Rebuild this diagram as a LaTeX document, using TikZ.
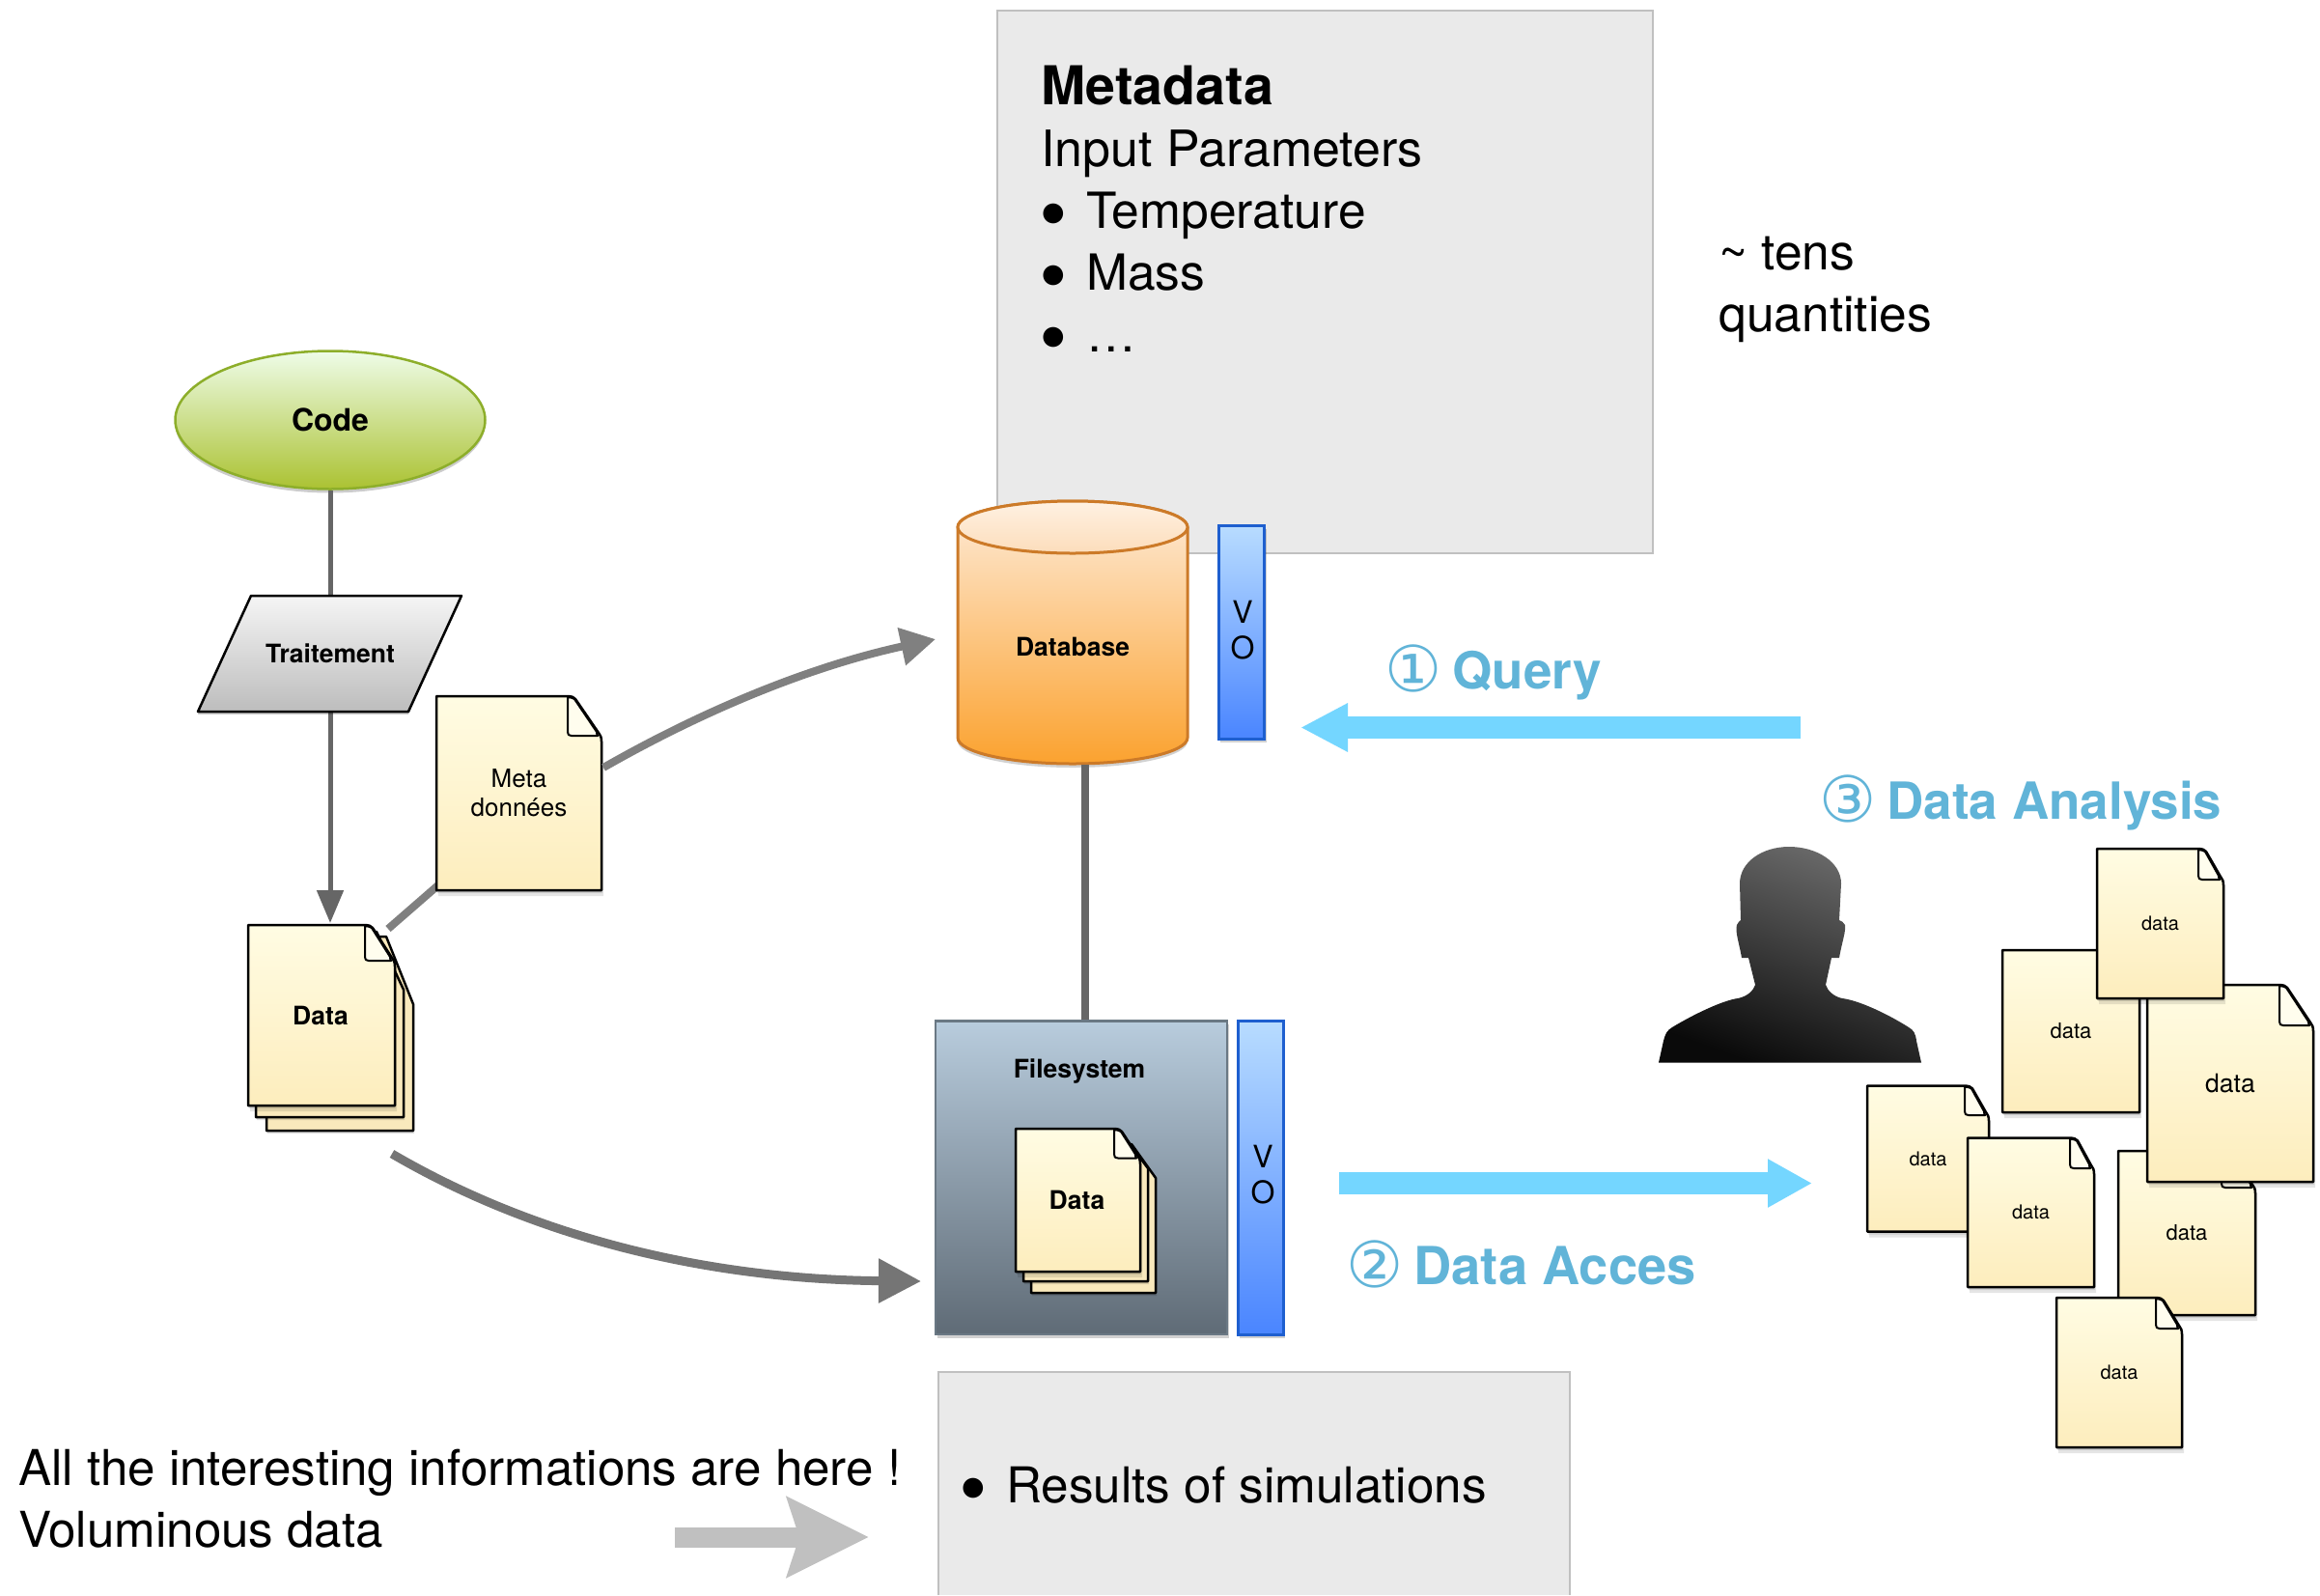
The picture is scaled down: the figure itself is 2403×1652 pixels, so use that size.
\documentclass[tikz,border=0pt]{standalone}
\usepackage{fontspec}
\setmainfont{TeX Gyre Heros}
\newfontfamily\djv{DejaVu Sans}
\usetikzlibrary{shapes.geometric,arrows.meta}
\definecolor{docT}{HTML}{FFFCE3}
\definecolor{docB}{HTML}{FDEDBD}
\definecolor{docBack}{HTML}{F9E9BC}
\definecolor{panel}{HTML}{EAEAEA}
\definecolor{panelB}{HTML}{C0C0C0}
\definecolor{skyA}{HTML}{74D6FF}
\definecolor{headT}{HTML}{61B4D8}
\definecolor{connD}{HTML}{666666}
\definecolor{connM}{HTML}{808080}
\definecolor{voT}{HTML}{B8DCFF}
\definecolor{voB}{HTML}{4A85FF}
\definecolor{voE}{HTML}{1E5FCF}
\definecolor{codeT}{HTML}{EEFCE8}
\definecolor{codeB}{HTML}{ABC232}
\definecolor{codeE}{HTML}{8DAE2A}
\definecolor{dbE}{HTML}{CC7A28}
\definecolor{dbT}{HTML}{FEEBD8}
\definecolor{dbB}{HTML}{FBA22F}
\definecolor{dbLidT}{HTML}{FFF1E2}
\definecolor{dbLidB}{HTML}{FCDDBB}
\definecolor{fsT}{HTML}{B8CCDD}
\definecolor{fsB}{HTML}{5F6B76}
\definecolor{fsE}{HTML}{6A7884}
\newcommand{\fsz}[1]{\fontsize{#1}{#1}\selectfont}
\newcommand{\bigbul}{\makebox[47pt][l]{\hspace{1pt}\raisebox{8pt}{\djv\fontsize{27}{27}\selectfont ●}}}
\newcommand{\circnum}[1]{\raisebox{-3pt}{\djv\fsz{66}\mdseries #1}\hspace{11pt}}
% name, x1,y1,x2,y2, fold x, fold y, text
\newcommand{\docnode}[8]{%
  \path[fill=black,opacity=.10,shift={(1,3)}] (#2,#3) -- (#6,#3) -- (#4,#7) -- (#4,#5) -- (#2,#5) -- cycle;
  \path[fill=black,opacity=.10,shift={(2,6)}] (#2,#3) -- (#6,#3) -- (#4,#7) -- (#4,#5) -- (#2,#5) -- cycle;
  \draw[docline,top color=docT,bottom color=docB] (#2,#3) -- (#6+2,#3) .. controls (#6+5,#3) and (#6+7,#3+1) .. (#6+9,#3+3) -- (#4-3,#7-3) .. controls (#4-1,#7-1) and (#4,#7+2) .. (#4,#7+6) -- (#4,#5) -- (#2,#5) -- cycle;
  \draw[docline,line width=2pt,fill=docT!60!white] (#6+1,#3+1) -- (#6+1,#7-4) .. controls (#6+1,#7-1) and (#6+2,#7) .. (#6+5,#7) -- (#4-4,#7) .. controls (#4-5,#7-2) and (#4-5,#7-3) .. (#4-5,#7-4) -- (#6+8,#3+3) .. controls (#6+6,#3+2) and (#6+4,#3+1) .. (#6+1,#3+1) -- cycle;
  \node[docnode] (#1) at ({(#2+#4)/2},{(#3+#5)/2}) [minimum width={(#4-(#2))*1pt},minimum height={(#5-(#3))*1pt}] {#8};
}
\newcommand{\backdoc}[7]{%
  \path[fill=black,opacity=.12,shift={(1,3)}] (#2,#3) -- (#6,#3) -- (#4,#7) -- (#4,#5) -- (#2,#5) -- cycle;
  \draw[docline,fill=docBack] (#2,#3) -- (#6,#3) -- (#4,#7) -- (#4,#5) -- (#2,#5) -- cycle;
  \coordinate (#1) at (#2,#3);
}
\tikzset{
  docline/.style={line width=2.5pt,draw=black,line join=round},
  docnode/.style={inner sep=0pt,font=\fsz{26}},
  bold26/.style={font=\fsz{26.5}\bfseries},
  voboxst/.style={draw=voE,line width=3pt,top color=voT,bottom color=voB,inner sep=0pt},
  textblock/.style={inner sep=0pt,align=left,anchor=base west,font=\fontsize{51.5}{64}\selectfont},
  sky/.style={draw=skyA,line width=23pt},
  heading/.style={inner sep=0pt,anchor=base west,text=headT,font=\fsz{53}\bfseries},
}
\begin{document}
\begin{tikzpicture}[x=1pt,y=-1pt]
\useasboundingbox (0,0) rectangle (2403,1652);
\fill[white] (0,0) rectangle (2403,1652);

% panels
\node[draw=panelB,fill=panel,line width=2.5pt,minimum width=679pt,minimum height=562pt,inner sep=0pt] (metapanel) at (1372.5,292) {};
\fill[panel] (972,1421) rectangle (1626,1652);
\draw[panelB,line width=2.5pt] (972,1652) -- (972,1421) -- (1626,1421) -- (1626,1652);
\coordinate (respanel) at (972,1421);

% metadata text
\node[textblock] (metatext) at (1078,364) {\textbf{\fontsize{55.5}{64}\selectfont Metadata}\\{\fontsize{51.9}{64}\selectfont Input Parameters}\\\bigbul Temperature\\\bigbul Mass\\\bigbul\dots};
\node[textblock] (tens) at (1780,343) {\textasciitilde{} tens\\quantities};
\node[textblock] (results) at (995,1556) {\bigbul\fontsize{51.2}{64}\selectfont Results of simulations};
\node[textblock,font=\fontsize{51.1}{64}\selectfont] (allinfo) at (19,1602) {All the interesting informations are here !\\Voluminous data};

% code and traitement
\node[ellipse,draw=none,minimum width=321pt,minimum height=143pt,inner sep=0pt,fill=black,opacity=.2] (codeshadow) at (342,439) {};
\node[ellipse,draw=codeE,line width=2.5pt,top color=codeT,bottom color=codeB,minimum width=321pt,minimum height=143pt,inner sep=0pt,font=\fsz{32}\bfseries] (code) at (342,435) {Code};
\node[inner sep=0pt,minimum width=273pt,minimum height=120pt] (traitement) at (341.5,677) {};
\draw[connD,line width=5pt] (code.south) -- (code.south |- traitement.north);
\draw[connD,line width=5pt,-{Triangle[length=34pt,width=27pt]}] (code.south |- traitement.south) -- (342,956);
\path[fill=black,opacity=.18] (260,620) -- (478,620) -- (423,740) -- (205,740) -- cycle;
\draw[line width=2.5pt,line join=round,top color=white!96!black,bottom color=black!26] (260,617) -- (478,617) -- (423,737) -- (205,737) -- cycle;
\node[inner sep=0pt,bold26] (traitementlabel) at (342,677) {Traitement};

% connectors behind meta doc
\coordinate (datacorner) at (402,962);
\coordinate (metaleft) at (456,915);
\draw[connM,line width=8pt] (datacorner) -- (metaleft);

% data stack
\backdoc{dataC}{276}{970}{428}{1171}{400}{1040}
\backdoc{dataB}{265}{965}{418}{1157}{390}{1025}
\docnode{data}{257}{958}{409}{1145}{377}{995}{\hspace{-2pt}\fsz{26.5}\bfseries Data}

% meta doc
\docnode{meta}{452}{721}{623}{922}{587}{762}{\fsz{26}\shortstack{Meta\\[8pt]données}}

% database
\path[fill=black,opacity=.18] (992,552) -- (992,768) arc[start angle=180,end angle=0,x radius=119,y radius=27] -- (1230,552) -- cycle;
\path[draw=dbE,line width=3pt,top color=dbT,bottom color=dbB] (992,546) -- (992,764) arc[start angle=180,end angle=0,x radius=119,y radius=27] -- (1230,546) arc[start angle=360,end angle=180,x radius=119,y radius=27] -- cycle;
\path[draw=dbE,line width=3pt,top color=dbLidT,bottom color=dbLidB] (1111,546) ellipse[x radius=119,y radius=27];
\node[inner sep=0pt,minimum width=238pt,minimum height=272pt] (database) at (1111,655) {};
\node[inner sep=0pt,font=\fsz{26.5}\bfseries] (dblabel) at (1111,670) {Database};

% VO db
\path[fill=black,opacity=.18] (1264,548) rectangle (1312,769);
\node[voboxst,minimum width=47pt,minimum height=221pt] (vodb) at (1286,654.5) {};
\node[inner sep=0pt,align=center,font=\fontsize{32}{37}\selectfont] (vodblabel) at (1287,653) {V\\O};

% filesystem
\path[fill=black,opacity=.18] (971,1061) rectangle (1273,1386);
\node[draw=fsE,line width=2.5pt,top color=fsT,bottom color=fsB,minimum width=302pt,minimum height=324.5pt,inner sep=0pt] (filesystem) at (1120,1219.75) {};
\node[inner sep=0pt,font=\fsz{26.5}\bfseries] (fslabel) at (1118,1110) {Filesystem};
\coordinate (dbfoot) at (1124,792);
\draw[connD,line width=8pt] (dbfoot) -- (dbfoot |- filesystem.north);
\backdoc{fsC}{1068}{1185}{1197}{1339}{1172}{1220}
\backdoc{fsB}{1060}{1177}{1189}{1327}{1164}{1210}
\docnode{fsdata}{1052}{1169}{1181}{1317}{1153}{1199.5}{\hspace{-2pt}\fsz{26.5}\bfseries Data}

% VO fs
\path[fill=black,opacity=.18] (1284,1061) rectangle (1331,1386);
\node[voboxst,minimum width=47pt,minimum height=324.5pt] (vofs) at (1305.5,1219.75) {};
\node[inner sep=0pt,align=center,font=\fontsize{32}{37}\selectfont] (vofslabel) at (1308,1217) {V\\O};

% curved grey arrows
\coordinate (metaout) at (625,795);
\coordinate (dbin) at (969,662);
\coordinate (dataout) at (406,1195);
\coordinate (fsin) at (954,1327);
\draw[connM,line width=8pt,-{Triangle[length=36pt,width=38pt]}] (metaout) .. controls (730,735) and (840,690) .. (dbin);
\draw[connD!90!white,line width=9pt,-{Triangle[length=44pt,width=44pt]}] (dataout) .. controls (560,1285) and (740,1325) .. (fsin);

% blue arrows and headings
\coordinate (queryfrom) at (1865,753.5);
\coordinate (queryto) at (1347,753.5);
\coordinate (accessfrom) at (1387,1225.5);
\coordinate (accessto) at (1877,1225.5);
\draw[sky,-{Triangle[length=49pt,width=47pt]}] (queryfrom) -- (queryto);
\draw[sky,-{Triangle[length=46pt,width=47pt]}] (accessfrom) -- (accessto);
\node[heading] (query) at (1434,713) {\circnum{①}Query};
\node[heading] (analysis) at (1884,848) {\circnum{③}Data Analysis};
\node[heading] (acces) at (1394,1330) {\circnum{②}\fontsize{54.3}{54.3}\selectfont Data Acces};

% person
\path[top color=black!58,bottom color=black!96,shading angle=-20] (1718,1100.5) -- (1723,1078) .. controls (1725,1070) and (1727,1067) .. (1732,1064)
  .. controls (1755,1050) and (1785,1036) .. (1800,1034)
  .. controls (1810,1032) and (1816,1026) .. (1818,1020)
  -- (1811,992) -- (1804,992)
  .. controls (1801,975) and (1797,965) .. (1799,958)
  .. controls (1800,955) and (1802,954) .. (1803,953)
  -- (1802,915)
  .. controls (1802,893) and (1825,877) .. (1853,877)
  .. controls (1882,877) and (1907,893) .. (1907,915)
  -- (1905,953)
  .. controls (1907,954) and (1910,955) .. (1911,958)
  .. controls (1912,965) and (1908,975) .. (1905,992)
  -- (1897,992) -- (1891,1020)
  .. controls (1893,1026) and (1899,1032) .. (1908,1034)
  .. controls (1925,1036) and (1955,1050) .. (1977,1064)
  .. controls (1982,1067) and (1984,1070) .. (1985,1078)
  -- (1990,1100.5) -- cycle;
\coordinate (person) at (1853,990);

% data pile
\docnode{dataE}{2074}{984}{2216}{1152}{2190}{1010}{\fsz{22}data}
\docnode{dataF}{2194}{1192}{2336}{1362}{2300}{1230}{\fsz{22}data}
\docnode{dataBig}{2224}{1020}{2396}{1224}{2360}{1062}{\fsz{26.5}data}
\docnode{dataTop}{2172}{879}{2303}{1034}{2276}{911}{\fsz{20}data}
\docnode{dataLeft}{1934}{1124.5}{2060}{1275.5}{2034}{1155}{\fsz{20}data}
\docnode{dataMid}{2038}{1178.5}{2169}{1333}{2143}{1210}{\fsz{20}data}
\docnode{dataBot}{2130}{1344}{2260}{1499}{2232}{1376}{\fsz{20}data}

% grey pointer
\coordinate (greyfrom) at (699,1592);
\coordinate (greyto) at (900,1592);
\draw[draw=panelB,line width=21pt,-{Stealth[length=84pt,width=81pt,inset=12pt]}] (greyfrom) -- (greyto);
\end{tikzpicture}
\end{document}
